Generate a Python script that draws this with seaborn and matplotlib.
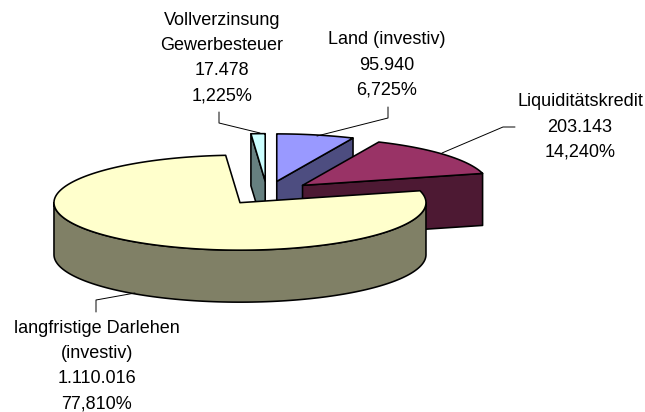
import numpy as np
import matplotlib
matplotlib.use("Agg")
import matplotlib.pyplot as plt
import seaborn as sns

# data, in sheet order (clockwise from 12 o'clock)
labels = ["Land (investiv)", "Liquiditätskredit",
          "langfristige Darlehen\n(investiv)", "Vollverzinsung\nGewerbesteuer"]
values = [95940, 203143, 1110016, 17478]
top_colors = ["#9999FF", "#993366", "#FFFFCC", "#CCFFFF"]
side_colors = ["#4D4D80", "#4D1933", "#808066", "#668080"]

# ── pie geometry, in pixels ──────────────────────────────
CX, CY = 267, 193
RX, RY = 186, 47.5
DEPTH = 52
EXPLODE = 0.25
LW = 1.15

sns.set_theme(style="white")
plt.rcParams['font.family'] = ['Liberation Sans', 'DejaVu Sans']

fig = plt.figure(figsize=(6.45, 4.12), dpi=100)
ax = fig.add_axes([0, 0, 1, 1])
ax.set_xlim(0, 645)
ax.set_ylim(412, 0)
ax.axis("off")

total = sum(values)
shares = [v / total for v in values]
edges = np.concatenate([[0], np.cumsum(shares) * 360])


def rim(apex, deg):
    rad = np.radians(deg)
    return apex[0] + RX * np.sin(rad), apex[1] - RY * np.cos(rad)


def draw_slice(i):
    a0, a1 = edges[i], edges[i + 1]
    mid = np.radians((a0 + a1) / 2)
    apex = (CX + EXPLODE * RX * np.sin(mid), CY - EXPLODE * RY * np.cos(mid))
    kw = dict(edgecolor="black", linewidth=LW, joinstyle="round")

    # cut faces, only those turned to the viewer
    for cut, normal in ((a0, a0 - 90), (a1, a1 + 90)):
        if np.cos(np.radians(normal)) < -1e-6:
            px, py = rim(apex, cut)
            ax.fill([apex[0], px, px, apex[0]],
                    [apex[1], py, py + DEPTH, apex[1] + DEPTH],
                    facecolor=side_colors[i], **kw)

    # outer wall, front half of the ellipse only
    lo, hi = max(a0, 90), min(a1, 270)
    if hi > lo:
        t = np.linspace(lo, hi, 120)
        xs, ys = rim(apex, t)
        ax.fill(np.r_[xs, xs[::-1]], np.r_[ys, ys[::-1] + DEPTH],
                facecolor=side_colors[i], **kw)

    # top face
    t = np.linspace(a0, a1, 200)
    xs, ys = rim(apex, t)
    ax.fill(np.r_[apex[0], xs], np.r_[apex[1], ys],
            facecolor=top_colors[i], **kw)


# back to front
for i in [3, 0, 1, 2]:
    draw_slice(i)

# ── labels and leader lines ──────────────────────────────
label_pos = [(387, 65), (580, 127), (97, 366), (222, 58)]
leaders = [
    ([388, 388, 317], [107, 118, 136]),
    ([515, 503, 442], [127, 127, 153]),
    ([96, 96, 135], [312, 300, 293]),
    ([219, 219, 260], [112, 123, 133]),
]

for i, (x, y) in enumerate(label_pos):
    num = f"{values[i]:,}".replace(",", ".")
    pct = f"{shares[i] * 100:.3f}%".replace(".", ",")
    ax.text(x, y, f"{labels[i]}\n{num}\n{pct}", ha="center", va="center",
            fontsize=13, linespacing=1.62, color="black")
    ax.plot(*leaders[i], color="black", linewidth=0.7)

fig.savefig("out.png", dpi=100)
